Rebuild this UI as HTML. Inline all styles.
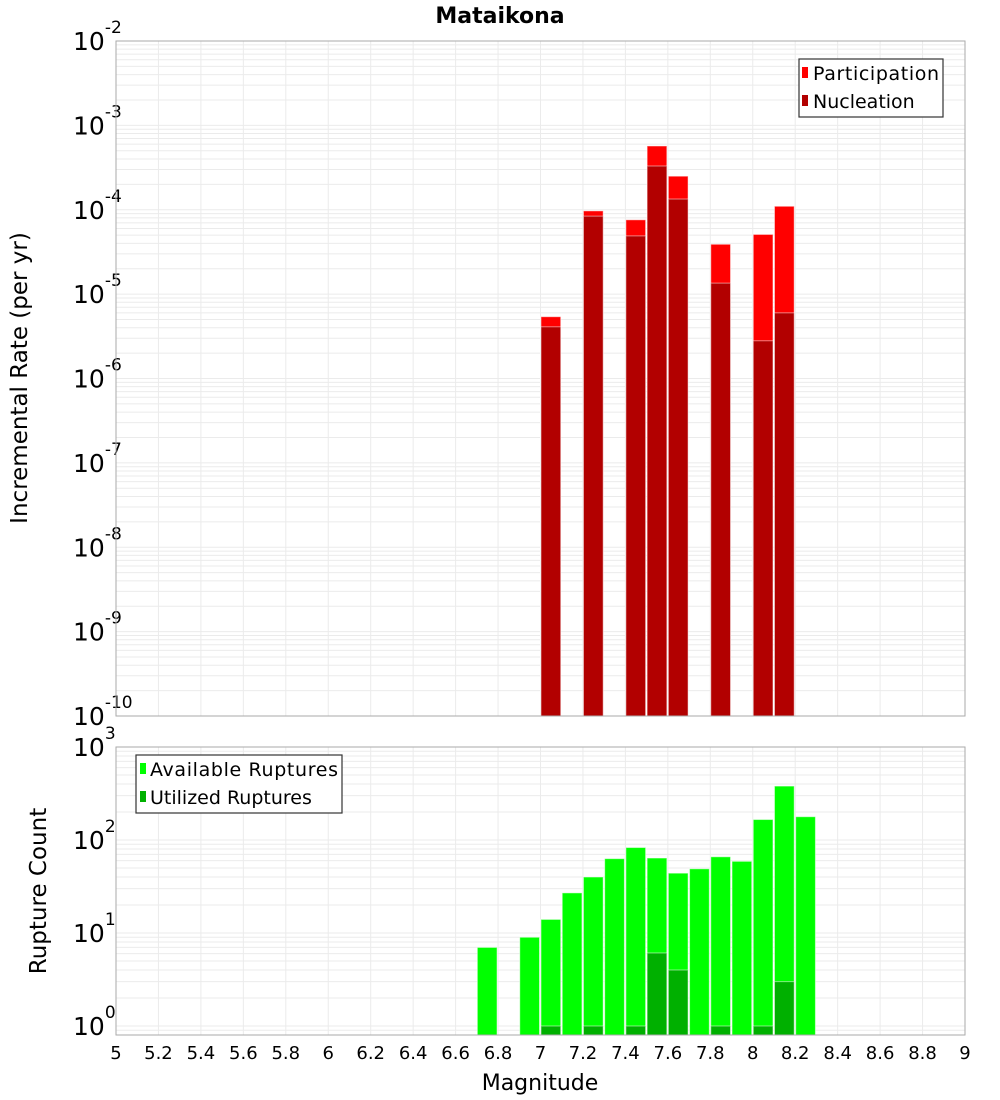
<!DOCTYPE html>
<html><head><meta charset="utf-8"><style>
body{margin:0;background:#fff}
svg{display:block;font-family:"DejaVu Sans","Liberation Sans",sans-serif}
</style></head><body>
<svg id="c" width="1000" height="1100">
<text x="500" y="23" text-anchor="middle" font-size="22" font-weight="bold">Mataikona</text>
<g id="topPanel"></g>
<g id="botPanel"></g>
<text transform="translate(27,378) rotate(-90)" text-anchor="middle" font-size="23">Incremental Rate (per yr)</text>
<text transform="translate(46,891) rotate(-90)" text-anchor="middle" font-size="23">Rupture Count</text>
<text x="540" y="1090" text-anchor="middle" font-size="22">Magnitude</text>
<g>
<rect x="799" y="59" width="144" height="58" fill="#fff" stroke="#333" stroke-width="1.2"/>
<rect x="802" y="67" width="6" height="11" fill="#ff0000"/>
<text x="813" y="80" font-size="19" textLength="126">Participation</text>
<rect x="802" y="95" width="6" height="11" fill="#b20000"/>
<text x="813" y="108" font-size="19">Nucleation</text>
</g>
<g>
<rect x="136" y="755" width="206" height="58" fill="#fff" stroke="#333" stroke-width="1.2"/>
<rect x="140" y="763" width="6" height="11" fill="#00ff00"/>
<text x="150" y="776" font-size="19" textLength="188">Available Ruptures</text>
<rect x="140" y="791" width="6" height="11" fill="#00b000"/>
<text x="150" y="804" font-size="19">Utilized Ruptures</text>
</g>
</svg>
<script>
const topMags=[7.0,7.2,7.4,7.5,7.6,7.8,8.0,8.1];
const participation=[5.4e-6,9.7e-5,7.6e-5,5.7e-4,2.5e-4,3.9e-5,5.1e-5,1.1e-4];
const nucleation=[4.1e-6,8.4e-5,4.9e-5,3.3e-4,1.34e-4,1.35e-5,2.8e-6,6.0e-6];
const botMags=[6.7,6.9,7.0,7.1,7.2,7.3,7.4,7.5,7.6,7.7,7.8,7.9,8.0,8.1,8.2];
const available=[7,9,14,27,40,63,83,64,44,49,66,59,166,380,178];
const utilMags=[7.0,7.2,7.4,7.5,7.6,7.8,8.0,8.1];
const utilized=[1,1,1,6.1,4,1,1,3];
const xTicks=[5,5.2,5.4,5.6,5.8,6,6.2,6.4,6.6,6.8,7,7.2,7.4,7.6,7.8,8,8.2,8.4,8.6,8.8,9];
const NS='http://www.w3.org/2000/svg';
const X0=116,X1=965;
const xs=m=>X0+(m-5)/4*(X1-X0);
function mk(p,t,a){const e=document.createElementNS(NS,t);for(const k in a)e.setAttribute(k,a[k]);p.appendChild(e);return e;}
function panel(g,Y0,Y1,lmin,lmax,labMin,labMax){
  const y=v=>Y1-(Math.log10(v)-lmin)/(lmax-lmin)*(Y1-Y0);
  for(let d=Math.floor(lmin);d<lmax;d++)for(let k=1;k<10;k++){
    const v=k*Math.pow(10,d);const yy=y(v);if(yy<Y0||yy>Y1)continue;
    const l=mk(g,'line',{x1:X0,x2:X1,y1:yy,y2:yy,stroke:'#ebebeb','stroke-width':1});
    
    
  }
  xTicks.forEach(t=>{const l=mk(g,'line',{x1:xs(t),x2:xs(t),y1:Y0,y2:Y1,stroke:'#ebebeb','stroke-width':1});
    
    });
  for(let d=labMin;d<=labMax;d++){
    const yy=y(Math.pow(10,d));
    const t=mk(g,'text',{x:73,y:yy+9,'font-size':25});
    
    
    t.textContent='10';
    const s=mk(t,'tspan',{dy:-17,'font-size':17});s.textContent=String(d);
  }
  return y;
}
function bars(g,y,mags,vals,fill,name,base){
  mags.forEach((m,i)=>{const yt=y(vals[i]);
    const r=mk(g,'rect',{x:xs(m)+0.5,y:yt,width:xs(m+0.1)-xs(m)-1.5,height:base-yt,fill:fill,stroke:'rgba(255,255,255,0.5)','stroke-width':1});
    
    });
}
const topG=document.getElementById('topPanel');
const yT=panel(topG,41,716,-10,-2,-10,-2);
bars(topG,yT,topMags,participation,'#ff0000','participation-bar',716);
bars(topG,yT,topMags,nucleation,'#b20000','nucleation-bar',716);
mk(topG,'rect',{x:X0,y:41,width:X1-X0,height:675,fill:'none',stroke:'#aaa'});
const botG=document.getElementById('botPanel');
const botMin=-(1035-1026)/93;
const yB=panel(botG,747,1035,botMin,3,0,3);
bars(botG,yB,botMags,available,'#00ff00','available-bar',1035);
bars(botG,yB,utilMags,utilized,'#00b000','utilized-bar',1035);
mk(botG,'rect',{x:X0,y:747,width:X1-X0,height:288,fill:'none',stroke:'#aaa'});
xTicks.forEach(t=>{const e=mk(botG,'text',{x:xs(t),y:1059,'text-anchor':'middle','font-size':18});
  
  
  e.textContent=String(t);});
</script>
</body></html>
